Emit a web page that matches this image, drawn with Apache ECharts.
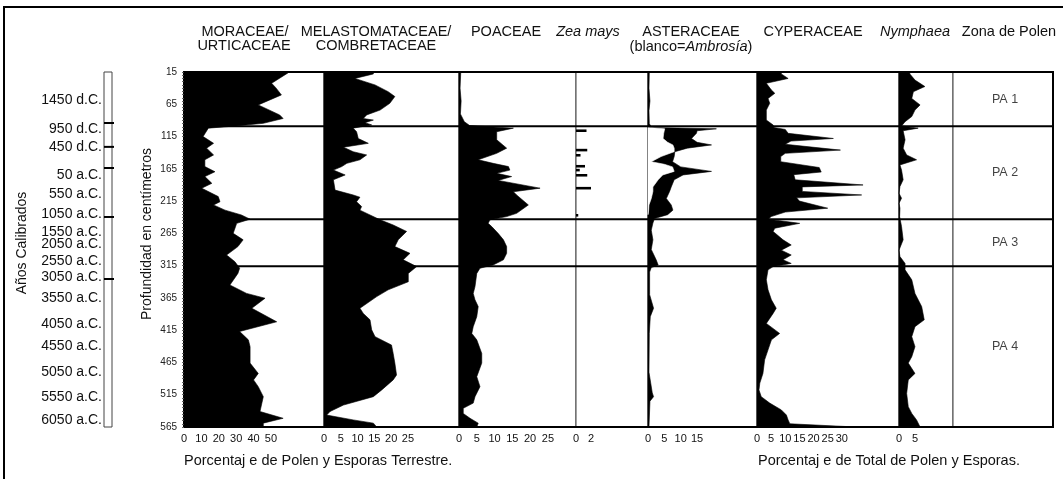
<!DOCTYPE html>
<html><head><meta charset="utf-8">
<script src="https://cdn.jsdelivr.net/npm/echarts@6/dist/echarts.min.js"></script>
<style>html,body{margin:0;padding:0;background:#fff}#c{width:1063px;height:479px}</style>
</head><body><div id="c"></div>
<script>
// ---------------- DATA ----------------
const depthTicks = [15,65,115,165,215,265,315,365,415,465,515,565];

const moraceaeDepth = [15,16,32.5,40,50.5,66,81.5,87,94.5,98.5,102,115,125.5,133,143.5,151,161.5,169.5,177,187.5,195,208,216,221,229,236.5,243,249.5,265,275,285.5,298.5,309,319,327,345,358,365.5,381,402,417,430,440.5,466,482,492,502.5,518,541,551.5,559,565];
const moraceaeVal = [60,60,50.4,53,56,42.7,55,57,45.6,30,14,11,17,13,17,12,12,17.8,12,16,10.2,19.7,20.7,17,23.6,33,38,30.3,28.3,34,31,24.5,29.3,32,31,26.4,36,46.6,39,53.3,32,37,38,38,42.7,40,42.7,45.6,43.7,57,45.6,45.6];

const melastoDepth = [15,18,25,35,45.5,53,63.5,74,81.5,87,89.5,93.5,97,102,107.5,118,125.5,131.5,138.5,143.5,151,156.5,161.5,167,174.5,182,198,205.5,209,216,223.5,229,236.5,244,252,262,275,285.5,296,306,316.5,327,340,352.5,363,381,389,399,414.5,425,438,451,466,484.5,492,507.5,518,531,541,546.5,554,559,565];
const melastoVal = [14.7,14.7,9.2,15.2,19.1,21.1,19.6,16.7,12.7,11.7,14.7,12.2,14.2,8.7,9.7,10.2,13.2,5.8,8.7,12.7,10.7,6.8,5.3,2.8,6.3,2.8,3.3,8.7,10.7,9.7,11.2,10.7,13.7,16.7,20.6,24.6,22.1,21.1,25.6,23.6,27.6,25.1,25.1,19.1,15.7,10.7,11.7,13.7,14.2,15.2,20.1,20.6,21.1,21.6,20.6,17.2,14.7,5.8,1.8,0.8,8.7,14.7,15.7];

const poaceaeDepth = [15,40,60,80,92,98,102,107.5,120,133,141,151,156.5,161.5,167,172,177,183,195,200.5,205.5,221,234,239,244,249.5,254.5,265,275,285.5,296,306,314,319,327,347.5,358,368,378.5,394,409.5,420,430,451,466,487,502.5,518,528,536,544,551.5,559,565];
const poaceaeVal = [0.5,0.3,0.6,0.4,1.5,3,15.3,10.6,10.6,13.4,10.6,5.4,9.6,13.9,14.3,10.6,14.8,11,22.8,15.3,16.2,19.5,16.2,13.4,8.7,8.2,9.2,11,12.5,13.4,13.4,12.5,9.6,5.9,5,4.5,4,4.5,5.4,5,4,3.6,5,6.4,6.4,5,5.9,4.5,4,1.2,1.2,3.1,5.4,5];

const zeaDepth = [106,136,144,161,167,175,195,237];
const zeaVal = [1.4,1.5,0.6,1.2,0.5,1.5,2,0.3];

const asterDepth = [15,40,60,75,95,100,101,103,106,110,118,124,128,133,138.5,146,154,162,169,174.5,182,193,200,211,221,229,236,242,249,260,275,290,306,314,318,325,360,381,394,420,480,512,518,525,565];
const asterVal = [0.4,0.3,0.6,0.3,0.4,1,1,20.9,15,14.8,13.3,15,19.4,12,8.2,8,7.5,10,19.4,10.7,8,7.1,6.6,5.6,7.1,7.6,6,2,1.5,1,1.5,1,2.5,3.1,1,0.5,0.5,1.7,0.7,0.4,0.3,1.3,1.7,0.6,0.3];

const ambrosiaDepth = [101,103,110,118,124,128,133,138.5,146,154,158,162,169,174.5,182,193,200,211,221,229,236];
const ambrosiaVal = [0,5.1,4.8,4.6,6,7.6,8,8,4,1,5,7.5,8,4.5,3.1,1.5,1.5,1,0.3,0.2,0];

const cyperDepth = [15,18,25,32.5,43,48,56,63.5,74,89.5,97,101,104,110,118,122,127,136,141,146,154,159,163,170,174,182,190,193,200,205.5,210,215,226,232,239,243,249.5,257,262,275,283,291,298.5,306,311.5,316.5,321.5,337,352.5,368,381,389,404.5,420,430,445.5,461,482,497,507.5,518,528,538.5,546.5,554,560,565];
const cyperVal = [8.6,8.6,11,3.3,5.1,6.3,3.9,4.5,3.3,3.3,5.7,6,10,11,27,12,10,29.5,10,8.4,8.4,16,22,22.7,13,13.5,37.5,16,16,37,14,15,25,10,5,4,15.1,6.3,5.7,9.2,12.1,8.6,12.1,9.2,12.1,5.7,3.9,3.3,3.9,5.1,6.8,5.7,3.3,8,5.1,3.9,2.7,2.1,1,0.7,1.5,4.5,8.6,10.4,11,11.6,35];

const nymphDepth = [15,18,27.5,37.5,45.5,56,66,74,84,92,98.5,102,106,120,133,143.5,151,159,167,182,192.5,203,210.5,218.5,226,239,254.5,275,291,301,311.5,321.5,337,358,378.5,399,409.5,425,440.5,456,466,482,492,513,533.5,544,554,565];
const nymphVal = [3.4,3.4,5,8.1,4.5,4,6.6,5,4,1.9,0.8,6,1.3,1.9,1.3,2.4,5.5,0.3,0.8,1.3,0.3,0,0.8,0,0.3,0.2,0.8,1.3,0,0.3,1.9,1.9,4,5,7.1,7.9,5,4,5,4,2.9,5,2.9,2.4,2.9,4,5.5,6.6];

const moraceaeTicks = [0,10,20,30,40,50];
const melastoTicks = [0,5,10,15,20,25];
const poaceaeTicks = [0,5,10,15,20,25];
const zeaTicks = [0,2];
const asterTicks = [0,5,10,15];
const cyperTicks = [0,5,10,15,20,25,30];
const nymphTicks = [0,5];

const zoneDepths = [99,243,316];
const zoneLabels = ['PA 1','PA 2','PA 3','PA 4'];
const zoneLabelDepths = [57,171,280,440];

const ageLabels = ['1450 d.C.','950 d.C.','450 d.C.','50 a.C.','550 a.C.','1050 a.C.','1550 a.C.','2050 a.C.','2550 a.C.','3050 a.C.','3550 a.C.','4050 a.C.','4550 a.C.','5050 a.C.','5550 a.C.','6050 a.C.'];
const ageLabelDepths = [58.4,103.8,131.7,174.6,204,235,262.4,282,307.8,333,365.6,405.4,439.5,479.3,518,554];
const ageTickDepths = [94,131,163.7,239.6,335.7];

// ---------------- LAYOUT ----------------
const FONT = "'Liberation Sans', Arial, sans-serif";
const NARROW = "'Liberation Sans Narrow', 'Liberation Sans', sans-serif";
const TOP = 72, HEIGHT = 355;
const panels = [
  {left:184, width:140, max:80.5, ticks:moraceaeTicks},
  {left:324, width:135, max:40.2, ticks:melastoTicks},
  {left:459, width:117, max:32.9, ticks:poaceaeTicks},
  {left:576, width:72,  max:9.6,  ticks:zeaTicks},
  {left:648, width:109, max:33.3, ticks:asterTicks},
  {left:757, width:142, max:50.2, ticks:cyperTicks},
  {left:899, width:54,  max:16.9, ticks:nymphTicks},
  {left:953, width:100, max:1,    ticks:null}
];
const minorTicks = [];
for (let d = 15; d <= 565; d += 5) minorTicks.push(d);

const grids = [], xAxes = [], yAxes = [];
panels.forEach((p, i) => {
  grids.push({left:p.left, top:TOP, width:p.width, height:HEIGHT, show:true, borderColor:'#444', borderWidth:1, backgroundColor:'#fff'});
  xAxes.push({gridIndex:i, type:'value', min:0, max:p.max,
    axisLine:{show:false}, axisTick:{show:false}, splitLine:{show:false},
    axisLabel: p.ticks ? {show:true, customValues:p.ticks, fontFamily:NARROW, fontSize:11, color:'#111', margin:6} : {show:false}});
  const y = {gridIndex:i, type:'value', inverse:true, min:15, max:565,
    axisLine:{show:false}, axisTick:{show:false}, splitLine:{show:false}, axisLabel:{show:false}};
  if (i === 0) {
    y.axisLabel = {show:true, customValues:depthTicks, fontFamily:FONT, fontSize:10, color:'#222', margin:7};
    y.axisTick = {show:true, customValues:minorTicks, length:2, lineStyle:{color:'#666', width:1}};
  }
  yAxes.push(y);
});
// overlay grid for zone lines (index 8)
grids.push({left:184, top:TOP, width:869, height:HEIGHT, show:true, borderColor:'#000', borderWidth:2, backgroundColor:'transparent'});
xAxes.push({gridIndex:8, type:'value', min:0, max:1, show:false});
yAxes.push({gridIndex:8, type:'value', inverse:true, min:15, max:565, show:false});
// age column grid (index 9)
grids.push({left:104, top:TOP, width:8, height:HEIGHT, show:true, borderColor:'#444', borderWidth:1, backgroundColor:'#fff'});
xAxes.push({gridIndex:9, type:'value', min:0, max:1, show:false});
yAxes.push({gridIndex:9, type:'value', inverse:true, min:15, max:565,
  axisLine:{show:false}, axisTick:{show:false}, splitLine:{show:false},
  axisLabel:{show:true, customValues:ageLabelDepths, fontFamily:FONT, fontSize:14, color:'#111', margin:2,
    formatter: v => { let bi = 0; ageLabelDepths.forEach((d,k)=>{ if (Math.abs(d-v) < Math.abs(ageLabelDepths[bi]-v)) bi = k; }); return ageLabels[bi]; }}});

function areaSeries(gi, depths, vals, color, z) {
  return {
    type:'custom', coordinateSystem:'cartesian2d', xAxisIndex:gi, yAxisIndex:gi, z:z || 2, silent:true,
    data: depths.map((d, i) => [vals[i], d]),
    renderItem: function (params, api) {
      if (params.dataIndex !== 0) return null;
      const pts = [api.coord([0, depths[0]])];
      for (let i = 0; i < depths.length; i++) pts.push(api.coord([vals[i], depths[i]]));
      pts.push(api.coord([0, depths[depths.length - 1]]));
      return {type:'polygon', shape:{points:pts}, style:{fill:color, stroke:color, lineWidth:0.6}};
    }
  };
}

const series = [
  areaSeries(0, moraceaeDepth, moraceaeVal, '#000'),
  areaSeries(1, melastoDepth, melastoVal, '#000'),
  areaSeries(2, poaceaeDepth, poaceaeVal, '#000'),
  areaSeries(4, asterDepth, asterVal, '#000'),
  areaSeries(4, ambrosiaDepth, ambrosiaVal, '#fff', 3),
  areaSeries(5, cyperDepth, cyperVal, '#000'),
  areaSeries(6, nymphDepth, nymphVal, '#000'),
  {
    type:'custom', coordinateSystem:'cartesian2d', xAxisIndex:3, yAxisIndex:3, silent:true,
    data: zeaDepth.map((d, i) => [zeaVal[i], d]),
    renderItem: function (params, api) {
      const v = api.value(0), d = api.value(1);
      const p0 = api.coord([0, d - 2]), p1 = api.coord([v, d + 2]);
      return {type:'rect', shape:{x:p0[0], y:p0[1], width:Math.max(p1[0]-p0[0], 1.5), height:p1[1]-p0[1]}, style:{fill:'#000'}};
    }
  },
  {
    type:'scatter', xAxisIndex:7, yAxisIndex:7, symbolSize:0, silent:true,
    data: zoneLabelDepths.map((d, i) => ({value:[0.52, d], name:zoneLabels[i]})),
    label:{show:true, position:'inside', formatter:p => p.name, fontFamily:FONT, fontSize:12.5, color:'#111'}
  },
  {
    type:'custom', coordinateSystem:'cartesian2d', xAxisIndex:9, yAxisIndex:9, silent:true, z:4,
    data: ageTickDepths.map(d => [0, d]),
    renderItem: function (params, api) {
      const d = api.value(1);
      const a = api.coord([0, d]), b = api.coord([1, d]);
      return {type:'line', shape:{x1:a[0], y1:a[1], x2:b[0] + 2, y2:b[1]}, style:{stroke:'#000', lineWidth:2}};
    }
  }
].concat(zoneDepths.map(z => ({
  type:'line', xAxisIndex:8, yAxisIndex:8, symbol:'none', silent:true, z:5,
  data:[[0, z], [1, z]], lineStyle:{color:'#000', width:2}
})));

const HF = '14.5px ' + FONT;
function txt(x, y, s, font, rot) {
  return {type:'text', x:x, y:y, rotation:rot || 0, silent:true,
    style:{text:s, fill:'#111', font:font || HF, textAlign:'center', textVerticalAlign:'middle'}};
}

const graphics = [
  {type:'rect', silent:true, z:-10, shape:{x:4, y:7, width:1100, height:500}, style:{fill:null, stroke:'#000', lineWidth:2}},
  txt(245, 32, 'MORACEAE/'), txt(244, 46, 'URTICACEAE'),
  txt(376, 32, 'MELASTOMATACEAE/'), txt(376, 46, 'COMBRETACEAE'),
  txt(506, 32, 'POACEAE'),
  txt(588, 32, 'Zea mays', 'italic ' + HF),
  txt(691, 32, 'ASTERACEAE'),
  {type:'text', x:691, y:47, silent:true, style:{text:'{a|(blanco=}{b|Ambrosía}{a|)}', textAlign:'center', textVerticalAlign:'middle',
    rich:{a:{fontFamily:FONT, fontSize:14.5, fill:'#111', color:'#111'}, b:{fontFamily:FONT, fontSize:14.5, fontStyle:'italic', fill:'#111', color:'#111'}}}},
  txt(813, 32, 'CYPERACEAE'),
  txt(915, 32, 'Nymphaea', 'italic ' + HF),
  txt(1009, 32, 'Zona de Polen'),
  txt(22, 243, 'Años Calibrados', '14px ' + FONT, Math.PI / 2),
  txt(147, 234, 'Profundidad en centímetros', '14px ' + FONT, Math.PI / 2),
  {type:'text', x:184, y:461, silent:true, style:{text:'Porcentaj e de Polen y Esporas Terrestre.', fill:'#111', font:'14.5px ' + NARROW, textAlign:'left', textVerticalAlign:'middle'}},
  {type:'text', x:758, y:461, silent:true, style:{text:'Porcentaj e de Total de Polen y Esporas.', fill:'#111', font:'14.5px ' + NARROW, textAlign:'left', textVerticalAlign:'middle'}}
];

const chart = echarts.init(document.getElementById('c'));
chart.setOption({
  animation:false,
  backgroundColor:'#fff',
  grid:grids, xAxis:xAxes, yAxis:yAxes, series:series, graphic:graphics
});
</script></body></html>
